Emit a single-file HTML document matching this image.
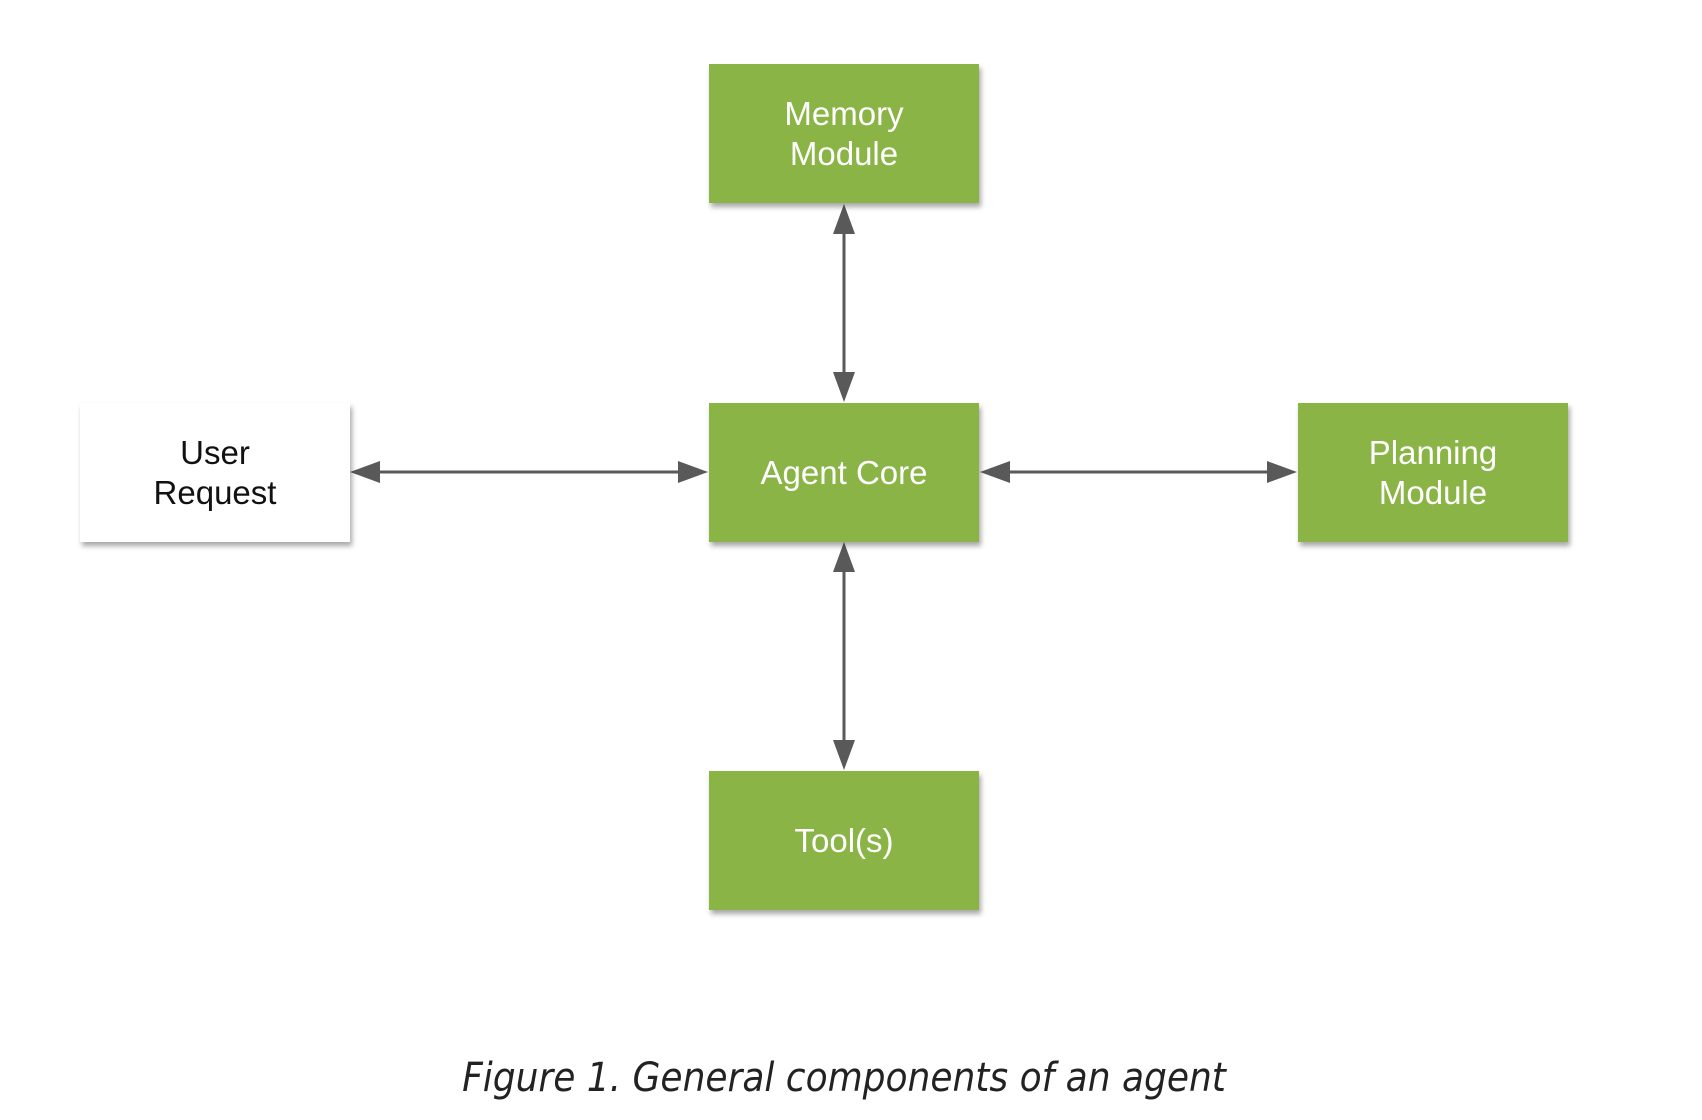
<!DOCTYPE html>
<html><head><style>
body{margin:0;background:#fff;width:1702px;height:1120px;position:relative;overflow:hidden;font-family:"Liberation Sans",Arial,sans-serif}
.b{position:absolute;width:270px;height:139px;background:#8ab446;color:#fff;display:flex;align-items:center;justify-content:center;text-align:center;font-size:33px;line-height:40px;box-shadow:2px 4px 5px rgba(0,0,0,0.35)}
.w{background:#fff;color:#111}
.cap{position:absolute;left:0;width:1688px;top:1055px;text-align:center;font-style:italic;font-size:40px;color:#222;font-family:"DejaVu Sans Condensed","Liberation Sans",sans-serif}
</style></head><body>
<svg width="1702" height="1120" style="position:absolute;left:0;top:0">
<g stroke="#595959" stroke-width="3" fill="#595959">
<line x1="844" y1="225" x2="844" y2="381"/>
<line x1="844" y1="563" x2="844" y2="749"/>
<line x1="371" y1="472" x2="687" y2="472"/>
<line x1="1001" y1="472" x2="1276" y2="472"/>
</g>
<g fill="#595959">
<polygon points="844,204 833,234 855,234"/>
<polygon points="844,402 833,372 855,372"/>
<polygon points="844,542 833,572 855,572"/>
<polygon points="844,770 833,740 855,740"/>
<polygon points="350,472 380,461 380,483"/>
<polygon points="708,472 678,461 678,483"/>
<polygon points="980,472 1010,461 1010,483"/>
<polygon points="1297,472 1267,461 1267,483"/>
</g>
</svg>
<div class="b" style="left:709px;top:64px">Memory<br>Module</div>
<div class="b" style="left:709px;top:403px">Agent Core</div>
<div class="b w" style="left:80px;top:403px">User<br>Request</div>
<div class="b" style="left:1298px;top:403px">Planning<br>Module</div>
<div class="b" style="left:709px;top:771px">Tool(s)</div>
<div class="cap">Figure 1. General components of an agent</div>
</body></html>
